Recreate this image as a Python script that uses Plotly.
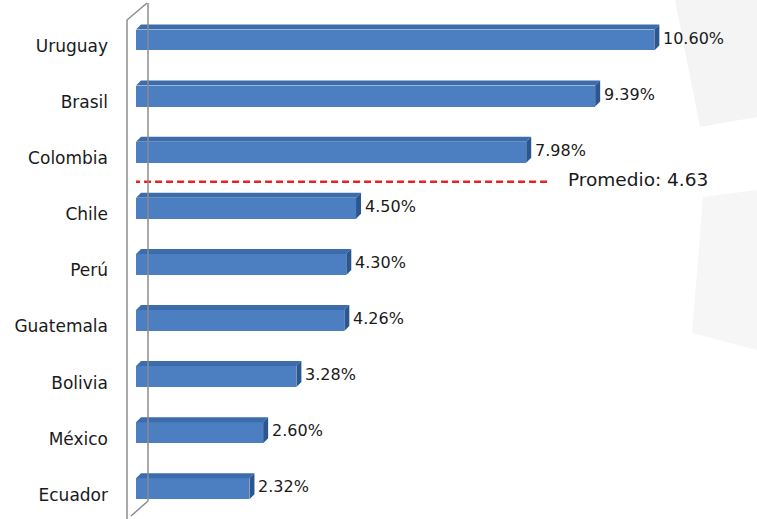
import plotly.graph_objects as go

# Data
countries = ["Uruguay", "Brasil", "Colombia", "Chile", "Perú", "Guatemala", "Bolivia", "México", "Ecuador"]
values = [10.60, 9.39, 7.98, 4.50, 4.30, 4.26, 3.28, 2.60, 2.32]
average = 4.63
average_label = "Promedio"

W, H = 757, 519
PX_X = 48.9    # pixels per data unit on x
PX_Y = 56.1    # pixels per category step
X0_PX = 136    # pixel position of x = 0
TOP_PX = 46    # pixel position of the first category label

FRONT = "#4B7FC1"
TOP = "#3C6CAB"
SIDE = "#2B5690"
TEXT = "#1A1A1A"
FONT = "DejaVu Sans"

pos = list(range(len(countries)))
offset = -0.294
width = 0.374
ddx = 5 / PX_X
ddy = 5 / PX_Y

fig = go.Figure()

# front faces of the bars
fig.add_trace(go.Bar(
    x=values, y=pos, orientation="h",
    offset=offset, width=width,
    marker=dict(color=FRONT, line=dict(width=0)),
    hoverinfo="skip", showlegend=False,
))

# top and side faces for the 3D look
tx, ty, sx, sy = [], [], [], []
for p, v in zip(pos, values):
    top = p + offset
    bot = p + offset + width
    tx += [0, v, v + ddx, ddx, 0, None]
    ty += [top, top, top - ddy, top - ddy, top, None]
    sx += [v, v + ddx, v + ddx, v, v, None]
    sy += [top, top - ddy, bot - ddy, bot, top, None]
fig.add_trace(go.Scatter(x=tx, y=ty, fill="toself", fillcolor=TOP, mode="lines",
                         line=dict(width=0, color=TOP), hoverinfo="skip", showlegend=False))
fig.add_trace(go.Scatter(x=sx, y=sy, fill="toself", fillcolor=SIDE, mode="lines",
                         line=dict(width=0, color=SIDE), hoverinfo="skip", showlegend=False))

# value labels
for p, v in zip(pos, values):
    fig.add_annotation(x=v + ddx, y=p - 0.14, text=f"{v:.2f}%", showarrow=False,
                       xanchor="left", yanchor="middle", xshift=2,
                       font=dict(family=FONT, size=16, color=TEXT))

# average separator between the ranks above and below the average
n_above = sum(1 for v in values if v > average)
line_y = n_above - 0.5 - 0.08
fig.add_shape(type="line", xref="x", yref="y", x0=-0.06, x1=8.43, y0=line_y, y1=line_y,
              line=dict(color="#E82222", width=2.5, dash="7px,4px"))
fig.add_annotation(x=8.79, y=line_y - 0.04, text=f"{average_label}: {average}", showarrow=False,
                   xanchor="left", yanchor="middle",
                   font=dict(family=FONT, size=18.5, color=TEXT))


def px(x, y):
    return x / W, 1 - y / H


# faint background panels on the right
def panel(points, color):
    path = "M " + " L ".join(f"{px(x, y)[0]:.4f},{px(x, y)[1]:.4f}" for x, y in points) + " Z"
    fig.add_shape(type="path", xref="paper", yref="paper", path=path,
                  fillcolor=color, line=dict(width=0), layer="below")


panel([(675, 0), (757, 0), (757, 117), (700, 127)], "#F4F4F4")
panel([(703, 197), (757, 190), (757, 350), (692, 333)], "#F6F6F6")

# side wall of the 3D frame
wall = "#8C8C8C"
for (xa, ya), (xb, yb) in [
    ((127, 20), (127, 519)),
    ((127, 20), (147, 3)),
    ((148, 3), (148, 501)),
    ((148, 501), (131, 516)),
]:
    x0, y0 = px(xa, ya)
    x1, y1 = px(xb, yb)
    fig.add_shape(type="line", xref="paper", yref="paper", x0=x0, y0=y0, x1=x1, y1=y1,
                  line=dict(color=wall, width=1.5))

x_max = (W - X0_PX) / PX_X
y_top = -TOP_PX / PX_Y
y_bot = y_top + H / PX_Y

fig.update_layout(
    width=W, height=H,
    margin=dict(l=0, r=0, t=0, b=0),
    paper_bgcolor="white", plot_bgcolor="rgba(0,0,0,0)",
    bargap=0,
    xaxis=dict(domain=[X0_PX / W, 1], range=[0, x_max], visible=False, fixedrange=True),
    yaxis=dict(domain=[0, 1], range=[y_bot, y_top], tickmode="array", tickvals=pos,
               ticktext=countries, showgrid=False, zeroline=False, showline=False,
               ticks="", ticklabelstandoff=27,
               tickfont=dict(family=FONT, size=17, color=TEXT), fixedrange=True),
    showlegend=False,
)

fig.write_html("out.html")
